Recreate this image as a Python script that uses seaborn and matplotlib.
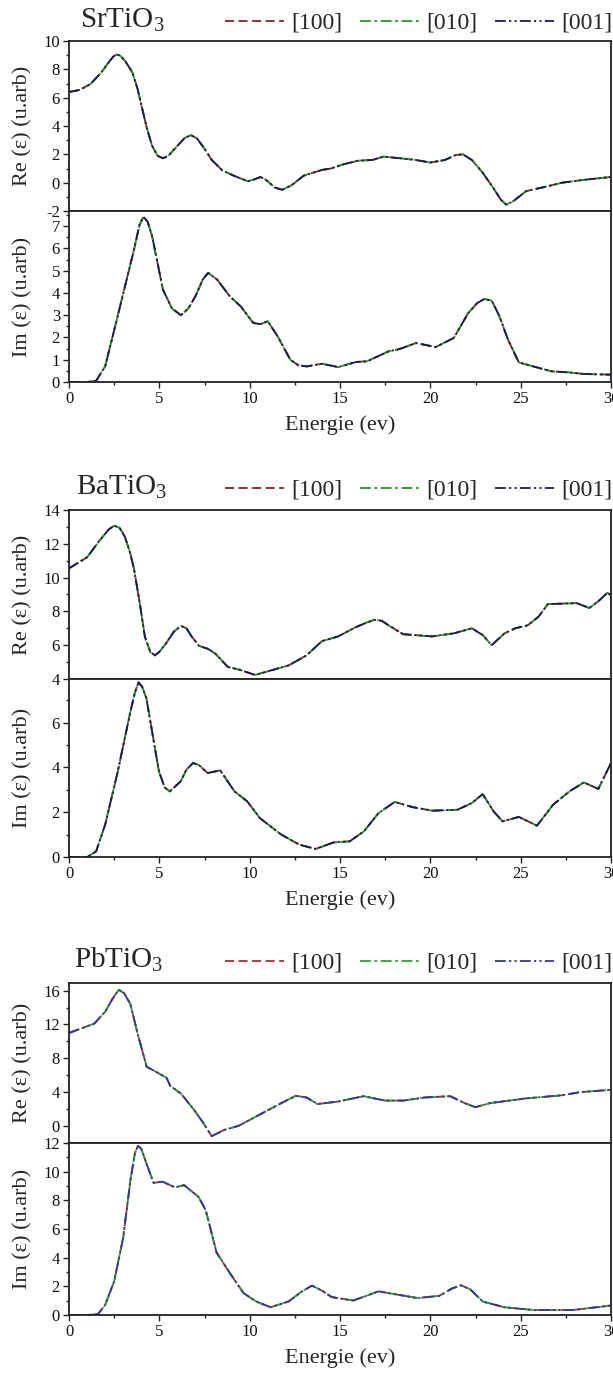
import numpy as np
import pandas as pd
import matplotlib
matplotlib.use("Agg")
import matplotlib.pyplot as plt
from matplotlib.ticker import MultipleLocator, FixedLocator
import seaborn as sns

# ---------------- data ----------------
directions = ["[100]", "[010]", "[001]"]
materials = ["SrTiO$_3$", "BaTiO$_3$", "PbTiO$_3$"]

sr_re_e = [0, 0.6, 1.2, 1.8, 2.2, 2.45, 2.65, 2.85, 3.1, 3.5, 3.8, 4.0, 4.3, 4.6, 4.9, 5.2,
           5.5, 6.0, 6.4, 6.75, 7.1, 7.5, 7.9, 8.5, 9.2, 9.9, 10.3, 10.6, 10.9, 11.4, 11.8,
           12.3, 13.0, 14.0, 14.5, 15.2, 16.0, 16.8, 17.4, 18.5, 19.2, 20.0, 20.8, 21.4, 21.8,
           22.3, 22.9, 23.5, 23.9, 24.2, 24.6, 25.3, 26.5, 27.3, 28.5, 30.0]
sr_re_v = [6.4, 6.55, 6.97, 7.8, 8.5, 8.9, 9.05, 8.95, 8.6, 7.8, 6.6, 5.5, 3.9, 2.6, 1.9,
           1.72, 1.9, 2.6, 3.15, 3.36, 3.1, 2.4, 1.6, 0.85, 0.45, 0.1, 0.25, 0.4, 0.2, -0.35,
           -0.5, -0.2, 0.5, 0.9, 1.0, 1.3, 1.55, 1.6, 1.84, 1.7, 1.6, 1.42, 1.6, 1.95, 2.0,
           1.6, 0.7, -0.4, -1.2, -1.55, -1.3, -0.6, -0.25, 0.0, 0.2, 0.4]

sr_im_e = [0, 1.0, 1.5, 2.0, 2.6, 3.1, 3.6, 3.9, 4.12, 4.35, 4.6, 5.2, 5.7, 6.2, 6.6, 7.0,
           7.4, 7.7, 8.2, 8.9, 9.5, 10.2, 10.6, 11.0, 11.55, 12.25, 12.7, 13.15, 14.0, 14.9,
           15.9, 16.5, 17.7, 18.3, 19.2, 20.3, 21.3, 22.1, 22.6, 23.0, 23.4, 23.8, 24.3, 24.9,
           25.7, 26.7, 27.7, 28.5, 30.0]
sr_im_v = [0, 0, 0.05, 0.7, 2.65, 4.3, 5.95, 7.05, 7.42, 7.2, 6.55, 4.15, 3.3, 3.0, 3.3,
           3.85, 4.6, 4.9, 4.6, 3.85, 3.4, 2.65, 2.6, 2.73, 2.05, 1.0, 0.75, 0.7, 0.82, 0.67,
           0.9, 0.93, 1.38, 1.48, 1.75, 1.57, 1.98, 3.1, 3.55, 3.73, 3.65, 3.0, 1.9, 0.88, 0.7,
           0.48, 0.43, 0.36, 0.33]

ba_re_e = [0, 1.0, 1.7, 2.2, 2.5, 2.8, 3.1, 3.4, 3.6, 3.9, 4.2, 4.5, 4.75, 5.0, 5.4, 5.8,
           6.2, 6.5, 6.8, 7.2, 7.7, 8.1, 8.8, 9.4, 10.3, 11.35, 12.15, 13.15, 14.0, 14.9, 15.9,
           16.5, 16.9, 17.3, 17.8, 18.5, 20.1, 21.3, 22.3, 22.9, 23.4, 24.1, 24.7, 25.4, 26.0,
           26.5, 28.1, 28.8, 29.3, 29.8, 30.0]
ba_re_v = [10.55, 11.2, 12.2, 12.85, 13.07, 12.95, 12.4, 11.4, 10.5, 8.6, 6.5, 5.6, 5.4, 5.6,
           6.15, 6.8, 7.14, 7.0, 6.5, 5.96, 5.78, 5.5, 4.71, 4.56, 4.24, 4.56, 4.8, 5.4, 6.24,
           6.52, 7.08, 7.35, 7.5, 7.45, 7.1, 6.65, 6.52, 6.7, 7.0, 6.6, 6.0, 6.7, 7.0, 7.18,
           7.7, 8.43, 8.49, 8.2, 8.6, 9.1, 8.95]

ba_im_e = [0, 1.0, 1.5, 2.0, 2.7, 3.4, 3.65, 3.85, 4.05, 4.28, 4.6, 4.98, 5.3, 5.58, 6.18,
           6.5, 6.87, 7.2, 7.67, 8.37, 9.16, 9.86, 10.56, 11.75, 12.75, 13.65, 14.64, 15.54,
           16.33, 17.13, 18.03, 19.0, 20.1, 21.5, 22.3, 22.9, 23.5, 24.0, 24.9, 25.9, 26.8,
           27.7, 28.5, 29.3, 30.0]
ba_im_v = [0, 0, 0.25, 1.44, 3.82, 6.5, 7.35, 7.8, 7.6, 7.1, 5.6, 3.82, 3.1, 2.93, 3.38,
           3.9, 4.2, 4.1, 3.75, 3.87, 2.93, 2.49, 1.74, 1.0, 0.55, 0.36, 0.65, 0.7, 1.15, 1.96,
           2.46, 2.23, 2.07, 2.11, 2.41, 2.81, 2.04, 1.59, 1.79, 1.4, 2.34, 2.93, 3.33, 3.04,
           4.2]

pb_re_e = [0, 1.4, 2.0, 2.4, 2.75, 3.05, 3.4, 3.8, 4.3, 4.8, 5.4, 5.6, 6.2, 6.9, 7.4, 7.9,
           8.6, 9.4, 10.6, 11.75, 12.55, 13.15, 13.75, 14.9, 16.3, 17.5, 18.5, 19.7, 21.1,
           21.9, 22.5, 23.3, 25.3, 27.3, 28.3, 30.0]
pb_re_v = [11.0, 12.1, 13.5, 15.0, 16.1, 15.7, 14.4, 10.9, 7.0, 6.43, 5.7, 4.76, 3.83, 1.97,
           0.48, -1.19, -0.45, 0.04, 1.41, 2.71, 3.57, 3.38, 2.6, 2.9, 3.53, 3.01, 3.01, 3.38,
           3.53, 2.71, 2.23, 2.71, 3.27, 3.64, 4.01, 4.28]

pb_im_e = [0, 1.0, 1.6, 2.0, 2.5, 3.0, 3.4, 3.65, 3.82, 4.0, 4.28, 4.68, 5.18, 5.88, 6.37,
           7.17, 7.57, 8.17, 8.96, 9.66, 10.36, 11.16, 12.15, 12.9, 13.45, 14.0, 14.54, 15.74,
           17.13, 19.3, 20.5, 21.2, 21.7, 22.2, 22.9, 24.1, 25.7, 27.9, 30.0]
pb_im_v = [0, 0, 0.05, 0.7, 2.35, 5.4, 9.4, 11.3, 11.8, 11.6, 10.6, 9.22, 9.3, 8.9, 9.06,
           8.24, 7.3, 4.35, 2.82, 1.53, 0.94, 0.54, 0.94, 1.65, 2.05, 1.7, 1.25, 1.01, 1.65,
           1.18, 1.34, 1.85, 2.07, 1.8, 0.94, 0.54, 0.35, 0.35, 0.66]

re_sets = [(sr_re_e, sr_re_v), (ba_re_e, ba_re_v), (pb_re_e, pb_re_v)]
im_sets = [(sr_im_e, sr_im_v), (ba_im_e, ba_im_v), (pb_im_e, pb_im_v)]

# ---------------- styling ----------------
W, H = 613, 1375
sns.set_style("ticks")
plt.rcParams["font.family"] = ["Liberation Serif", "DejaVu Serif"]
plt.rcParams["mathtext.fontset"] = "custom"
plt.rcParams["mathtext.rm"] = "Liberation Serif"
plt.rcParams["mathtext.it"] = "Liberation Serif:italic"
plt.rcParams["axes.unicode_minus"] = False

line_styles = [(0, (5, 2.5)), (0, (6, 2, 1.5, 2)), (0, (6, 1.8, 1.2, 1.8, 1.2, 1.8))]
colors_groups = [["#8b2020", "#1f9a1f", "#1b1b55"],
                 ["#8b2020", "#1f9a1f", "#1b1b55"],
                 ["#b02a2a", "#22aa22", "#3535a0"]]

# panel pixel geometry: (re_top, split, im_bottom)
groups_px = [(41, 211, 382), (510, 679, 857), (983, 1143, 1315)]
title_y = [20, 487, 960]
title_x = [80, 76, 74]
xlabel_off = 43
left_px, right_px = 69, 611

re_lims = [(-2, 10), (4, 14), (-2, 16.9)]
re_major = [[-2, 0, 2, 4, 6, 8, 10], [4, 6, 8, 10, 12, 14], [0, 4, 8, 12, 16]]
re_minor = [1, 1, 2]
im_lims = [(0, 7.68), (0, 7.95), (0, 12)]
im_major = [[0, 1, 2, 3, 4, 5, 6, 7], [0, 2, 4, 6], [0, 2, 4, 6, 8, 10, 12]]
im_minor = [0.5, 1, 1]

fig = plt.figure(figsize=(W / 100, H / 100), dpi=100)


def px_axes(top, bottom):
    return fig.add_axes([left_px / W, 1 - bottom / H, (right_px - left_px) / W, (bottom - top) / H])


def style_ax(ax):
    for s in ax.spines.values():
        s.set_linewidth(1.3)
        s.set_color("#222222")
    ax.tick_params(axis="both", which="major", direction="out", length=4.5, width=1.0,
                   labelsize=12, pad=2, colors="#222222", labelcolor="#111111")
    ax.tick_params(axis="both", which="minor", direction="out", length=2.5, width=1.0,
                   colors="#222222")


for g in range(3):
    top, split, bot = groups_px[g]
    ax_re = px_axes(top, split)
    ax_im = px_axes(split, bot)
    cols = colors_groups[g]

    for ax, (e, v) in ((ax_re, re_sets[g]), (ax_im, im_sets[g])):
        for d, ls, c in zip(directions, line_styles, cols):
            df = pd.DataFrame({"E": e, "eps": v})
            sns.lineplot(data=df, x="E", y="eps", ax=ax, color=c, linestyle=ls,
                         linewidth=1.3, label=d, legend=False, sort=False)
        ax.set_xlim(0, 30)
        style_ax(ax)

    ax_re.set_ylim(*re_lims[g])
    ax_re.yaxis.set_major_locator(FixedLocator(re_major[g]))
    ax_re.yaxis.set_minor_locator(MultipleLocator(re_minor[g]))
    ax_re.tick_params(axis="x", which="both", bottom=False, labelbottom=False)
    ax_re.set_xlabel("")
    ax_re.set_ylabel("Re (ε) (u.arb)", fontsize=16)

    ax_im.set_ylim(*im_lims[g])
    ax_im.yaxis.set_major_locator(FixedLocator(im_major[g]))
    ax_im.yaxis.set_minor_locator(MultipleLocator(im_minor[g]))
    ax_im.xaxis.set_major_locator(MultipleLocator(5))
    ax_im.xaxis.set_minor_locator(MultipleLocator(2.5))
    ax_im.set_ylabel("Im (ε) (u.arb)", fontsize=16)
    ax_im.set_xlabel("Energie (ev)", fontsize=16)

    wpx = right_px - left_px
    ax_re.yaxis.set_label_coords(-(left_px - 32) / wpx, 0.5)
    ax_im.yaxis.set_label_coords(-(left_px - 32) / wpx, 0.5)
    ax_im.xaxis.set_label_coords(0.5, -xlabel_off / (bot - split))
    ax_im.xaxis.label.set_va("center")

    fig.text(title_x[g] / W, 1 - title_y[g] / H, materials[g], fontsize=21,
             ha="left", va="center")

    handles, labels = ax_re.get_legend_handles_labels()
    fig.legend(handles[:3], labels[:3], loc="center right",
               bbox_to_anchor=(612 / W, 1 - (title_y[g] + 3) / H), ncol=3, frameon=False,
               fontsize=17, handlelength=2.5, handletextpad=0.3, columnspacing=0.75,
               borderaxespad=0, borderpad=0)

fig.savefig("out.png", dpi=100)
